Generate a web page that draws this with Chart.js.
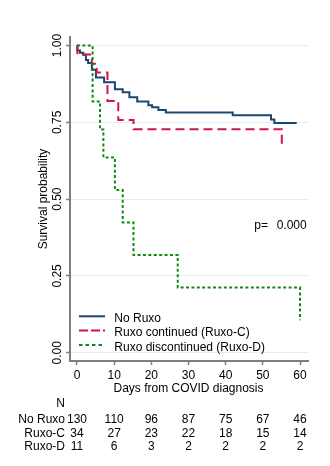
<!DOCTYPE html>
<html>
<head>
<meta charset="utf-8">
<script src="https://cdn.jsdelivr.net/npm/chart.js@4/dist/chart.umd.min.js"></script>
<style>
  html, body { margin: 0; padding: 0; background: #fff; }
  canvas { display: block; }
</style>
</head>
<body>
<canvas id="km" width="330" height="466"></canvas>
<script>
// Kaplan-Meier steps: day of each drop and the survival level right after it
const noRuxoDays = [0, 0.1, 0.8, 1.7, 2.4, 3.0, 4.0, 5.1, 7.3, 10.2, 12.3, 14.1, 16.2, 19.2, 20.2, 21.9, 23.9, 41.9, 52.2, 53.1, 59.1];
const noRuxoSurv = [1, 0.984, 0.977, 0.970, 0.953, 0.943, 0.921, 0.896, 0.881, 0.858, 0.848, 0.832, 0.818, 0.806, 0.799, 0.790, 0.782, 0.773, 0.759, 0.748, 0.748];
const ruxoCDays = [0, 0.1, 4.0, 5.3, 8.2, 11.1, 15.2, 55.1];
const ruxoCSurv = [1, 0.971, 0.941, 0.912, 0.820, 0.758, 0.728, 0.680];
const ruxoDDays = [0, 4.2, 6.2, 7.1, 10.2, 12.3, 15.2, 27.1, 60];
const ruxoDSurv = [1, 0.818, 0.727, 0.636, 0.530, 0.424, 0.318, 0.212, 0.106];

const seriesNames = ['No Ruxo', 'Ruxo continued (Ruxo-C)', 'Ruxo discontinued (Ruxo-D)'];
const riskRowLabels = ['No Ruxo', 'Ruxo-C', 'Ruxo-D'];
const xTickValues = [0, 10, 20, 30, 40, 50, 60];
const yTickValues = [0, 0.25, 0.5, 0.75, 1];
const atRiskNoRuxo = [130, 110, 96, 87, 75, 67, 46];
const atRiskRuxoC = [34, 27, 23, 22, 18, 15, 14];
const atRiskRuxoD = [11, 6, 3, 2, 2, 2, 2];
const pValueText = '0.000';

const toPoints = (days, surv) => days.map((d, i) => ({ x: d, y: surv[i] }));

const FONT = '12px "Liberation Sans", Arial, sans-serif';
const AXIS_GREY = '#7f7f7f';

// Rotated y labels, axis titles, legend box, p-value and the numbers-at-risk table
const kmText = {
  id: 'kmText',
  afterDraw(chart) {
    const ctx = chart.ctx;
    const xs = chart.scales.x, ys = chart.scales.y, area = chart.chartArea;
    ctx.save();
    ctx.fillStyle = '#000';
    ctx.font = FONT;
    ctx.textBaseline = 'alphabetic';

    yTickValues.forEach(v => {
      ctx.save();
      ctx.translate(area.left - 8.6, ys.getPixelForValue(v));
      ctx.rotate(-Math.PI / 2);
      ctx.textAlign = 'center';
      ctx.fillText(v.toFixed(2), 0, 0);
      ctx.restore();
    });

    ctx.save();
    ctx.translate(47, (area.top + area.bottom) / 2);
    ctx.rotate(-Math.PI / 2);
    ctx.textAlign = 'center';
    ctx.fillText('Survival probability', 0, 0);
    ctx.restore();

    ctx.textAlign = 'center';
    xTickValues.forEach(v => ctx.fillText(String(v), xs.getPixelForValue(v), area.bottom + 18.4));
    ctx.fillText('Days from COVID diagnosis',
      (xs.getPixelForValue(xTickValues[0]) + xs.getPixelForValue(xTickValues[xTickValues.length - 1])) / 2,
      area.bottom + 30.8);

    // p-value
    ctx.textAlign = 'left';
    ctx.fillText('p=', area.right - 53.7, 229);
    ctx.textAlign = 'right';
    ctx.fillText(pValueText, area.right - 1.3, 229);

    // legend inside the plot
    chart.data.datasets.forEach((ds, i) => {
      const ly = area.bottom - 44.7 + i * 14.3;
      ctx.save();
      ctx.strokeStyle = ds.borderColor;
      ctx.lineWidth = ds.borderWidth;
      ctx.setLineDash(ds.legendDash || []);
      ctx.beginPath();
      ctx.moveTo(area.left + 9, ly);
      ctx.lineTo(area.left + 35, ly);
      ctx.stroke();
      ctx.restore();
      ctx.textAlign = 'left';
      ctx.fillText(ds.label, area.left + 44.3, ly + 5.8);
    });

    // numbers at risk
    const rows = [atRiskNoRuxo, atRiskRuxoC, atRiskRuxoD];
    const labelRight = area.left - 5;
    ctx.textAlign = 'right';
    ctx.fillText('N', labelRight, area.bottom + 46.3);
    rows.forEach((row, r) => {
      const by = area.bottom + 62.3 + r * 13.4;
      ctx.textAlign = 'right';
      ctx.fillText(riskRowLabels[r], labelRight, by);
      ctx.textAlign = 'center';
      row.forEach((n, k) => ctx.fillText(String(n), xs.getPixelForValue(xTickValues[k]), by));
    });
    ctx.restore();
  }
};

new Chart(document.getElementById('km'), {
  type: 'line',
  data: {
    datasets: [
      {
        label: seriesNames[0],
        data: toPoints(noRuxoDays, noRuxoSurv),
        borderColor: '#1a476f',
        borderWidth: 2,
        stepped: 'before',
        pointRadius: 0,
        fill: false,
        order: 2,
        legendDash: []
      },
      {
        label: seriesNames[1],
        data: toPoints(ruxoCDays, ruxoCSurv),
        borderColor: '#d0154f',
        borderWidth: 2,
        borderDash: [9, 5],
        stepped: 'before',
        pointRadius: 0,
        fill: false,
        order: 1,
        legendDash: [9, 3]
      },
      {
        label: seriesNames[2],
        data: toPoints(ruxoDDays, ruxoDSurv),
        borderColor: '#118a11',
        borderWidth: 2,
        borderDash: [3, 2.4],
        stepped: 'before',
        pointRadius: 0,
        fill: false,
        order: 0,
        legendDash: [3.5, 3]
      }
    ]
  },
  options: {
    responsive: false,
    animation: false,
    devicePixelRatio: 1,
    layout: { padding: { top: 37, right: 22, left: 0, bottom: 0 } },
    plugins: { legend: { display: false }, tooltip: { enabled: false } },
    scales: {
      x: {
        type: 'linear',
        min: -1.883,
        max: 62.15,
        afterBuildTicks: s => { s.ticks = xTickValues.map(v => ({ value: v })); },
        afterFit: s => { s.height = 105; },
        ticks: { display: false },
        grid: { drawOnChartArea: false, drawTicks: true, tickLength: 4, tickColor: AXIS_GREY, tickWidth: 1.5 },
        border: { display: true, color: AXIS_GREY, width: 2 }
      },
      y: {
        type: 'linear',
        min: -0.027,
        max: 1.028,
        afterBuildTicks: s => { s.ticks = yTickValues.map(v => ({ value: v })); },
        afterFit: s => { s.width = 70; },
        ticks: { display: false },
        grid: { color: '#e5edef', lineWidth: 1, drawTicks: true, tickLength: 4, tickColor: AXIS_GREY, tickWidth: 1.5 },
        border: { display: true, color: AXIS_GREY, width: 2 }
      }
    }
  },
  plugins: [kmText]
});
</script>
</body>
</html>
